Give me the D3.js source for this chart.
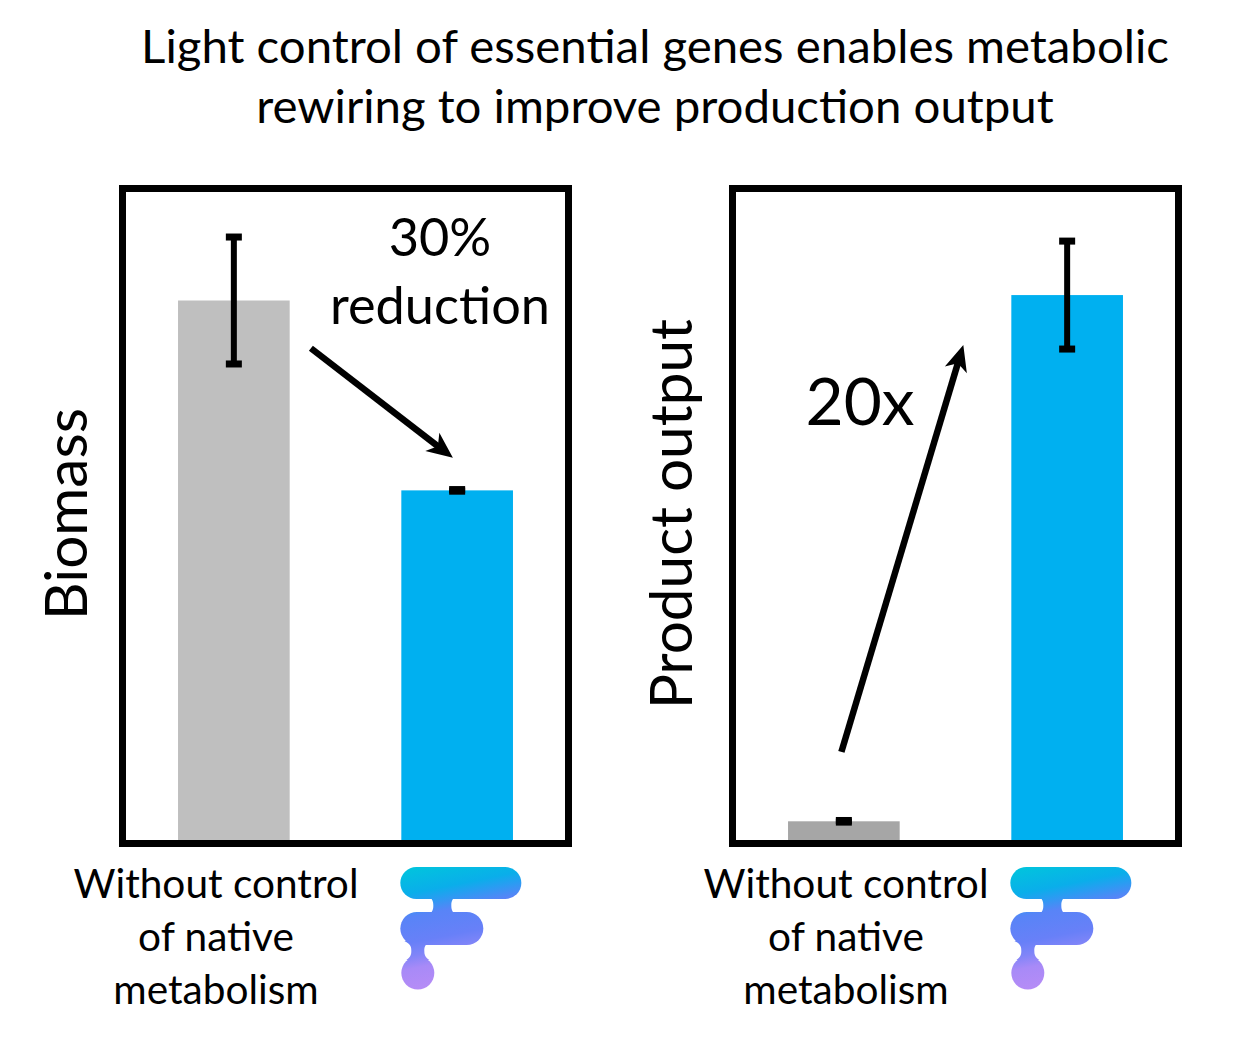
<html>
<head>
<script type="text/javascript" src="https://cdn.jsdelivr.net/npm/d3@7"></script>
<style>
  body { margin: 0; background: #fff; }
  text { font-family: Lato, "Open Sans", sans-serif; fill: #000; }
</style>
</head>
<body>
<script>
// data
let categories = ["Without control of native metabolism", "Light control"];
let categoryLines = ["Without control", "of native", "metabolism"];
let biomass = [1.0, 0.65];
let biomassErr = [0.117, 0.0015];
let product = [0.04, 1.01];
let productErr = [0.0015, 0.0995];
let titleLines = ["Light control of essential genes enables metabolic", "rewiring to improve production output"];

let screen = {width: 1243, height: 1047};
let frame = {left: 122.5, right: 568.5, top: 188.5, bottom: 843.5};

let panels = [
  {label: "Biomass", values: biomass, errs: biomassErr, colors: ["#bfbfbf", "#00b0f0"], dx: 0,
   labelX: 216, axisX: 87, axisW: 212,
   arrow: {from: [0.345, 0.912], to: [0.981, 0.71]},
   notes: [{t: "30%", x: 440, y: 256}, {t: "reduction", x: 440, y: 324}], noteW: 220},
  {label: "Product output", values: product, errs: productErr, colors: ["#a6a6a6", "#00b0f0"], dx: 610,
   labelX: 236, axisX: 82, axisW: 390,
   arrow: {from: [-0.011, 0.168], to: [0.535, 0.918]},
   notes: [{t: "20x", x: 250, y: 425}], noteW: 109}
];

// fit a text to a pixel width
let fit = function(sel, w) {
  sel.style("font-size", "100px");
  let len = sel.node().getComputedTextLength();
  let fs = 100 * w / len;
  sel.style("font-size", fs + "px");
  return fs;
};

let svg = d3.select("body").append("svg")
  .attr("width", screen.width)
  .attr("height", screen.height);

// logo gradient
let defs = svg.append("defs");
let grad = defs.append("linearGradient")
  .attr("id", "logoGrad")
  .attr("gradientUnits", "userSpaceOnUse")
  .attr("x1", 0).attr("y1", 0).attr("x2", 25).attr("y2", 125);
[[0, "#00c6dc"], [0.22, "#0aaeea"], [0.3, "#2a9cf2"], [0.4, "#5884f7"],
 [0.6, "#6880f8"], [0.7, "#8085f8"], [0.8, "#a88af7"], [1, "#b88cf6"]].forEach(function(s) {
  grad.append("stop").attr("offset", s[0]).attr("stop-color", s[1]);
});

// title
let t1 = svg.append("text").attr("x", 655).attr("y", 63).attr("text-anchor", "middle").text(titleLines[0]);
let tfs = fit(t1, 1028);
svg.append("text").attr("x", 655).attr("y", 123).attr("text-anchor", "middle")
  .style("font-size", tfs + "px").text(titleLines[1]);

let yScale = d3.scaleLinear()
  .domain([0, 1.2])
  .range([843, 192]);

let xScale = d3.scaleBand()
  .domain(categories)
  .range([126, 565])
  .paddingInner(0.5)
  .paddingOuter(0.233);

let step = xScale.step();
let xPos = function(u) { return xScale(categories[0]) + xScale.bandwidth() / 2 + u * step; };

panels.forEach(function(p) {
  let g = svg.append("g").attr("transform", "translate(" + p.dx + ",0)");

  // bars
  g.selectAll("rect.bar")
    .data(p.values)
    .enter()
    .append("rect")
    .attr("class", "bar")
    .attr("x", function(d, i) { return xScale(categories[i]); })
    .attr("y", function(d) { return yScale(d); })
    .attr("width", xScale.bandwidth())
    .attr("height", function(d) { return yScale(0) - yScale(d); })
    .attr("fill", function(d, i) { return p.colors[i]; });

  // error bars
  p.values.forEach(function(v, i) {
    let cx = xScale(categories[i]) + xScale.bandwidth() / 2;
    let hi = yScale(v + p.errs[i]), lo = yScale(v - p.errs[i]);
    g.append("line")
      .attr("x1", cx).attr("x2", cx).attr("y1", hi).attr("y2", lo)
      .attr("stroke", "#000").attr("stroke-width", 6);
    [hi, lo].forEach(function(y) {
      g.append("rect")
        .attr("x", cx - 8).attr("y", y - 3.5)
        .attr("width", 16).attr("height", 7)
        .attr("fill", "#000");
    });
  });

  // frame
  g.append("rect")
    .attr("x", frame.left).attr("y", frame.top)
    .attr("width", frame.right - frame.left)
    .attr("height", frame.bottom - frame.top)
    .attr("fill", "none")
    .attr("stroke", "#000")
    .attr("stroke-width", 7);

  // arrow
  let x1 = xPos(p.arrow.from[0]), y1 = yScale(p.arrow.from[1]);
  let x2 = xPos(p.arrow.to[0]), y2 = yScale(p.arrow.to[1]);
  let ang = Math.atan2(y2 - y1, x2 - x1);
  let back = 18;
  g.append("line")
    .attr("x1", x1).attr("y1", y1)
    .attr("x2", x2 - back * Math.cos(ang)).attr("y2", y2 - back * Math.sin(ang))
    .attr("stroke", "#000").attr("stroke-width", 6.5);
  g.append("path")
    .attr("d", "M0,0L-26,-11.5L-19,0L-26,11.5Z")
    .attr("transform", "translate(" + x2 + "," + y2 + ") rotate(" + (ang * 180 / Math.PI) + ")")
    .attr("fill", "#000");

  // notes
  let noteSel = g.selectAll("text.note")
    .data(p.notes)
    .enter()
    .append("text")
    .attr("class", "note")
    .attr("x", function(d) { return d.x; })
    .attr("y", function(d) { return d.y; })
    .attr("text-anchor", "middle")
    .text(function(d) { return d.t; });
  let nfs = fit(d3.select(noteSel.nodes()[noteSel.size() - 1]), p.noteW);
  noteSel.style("font-size", nfs + "px");

  // y label
  let yl = g.append("text")
    .attr("transform", "translate(" + p.axisX + ",514) rotate(-90)")
    .attr("text-anchor", "middle")
    .text(p.label);
  fit(yl, p.axisW);

  // category label
  let cl = g.append("text")
    .attr("x", p.labelX)
    .attr("text-anchor", "middle");
  cl.selectAll("tspan")
    .data(categoryLines)
    .enter()
    .append("tspan")
    .attr("x", p.labelX)
    .attr("y", function(d, i) { return 898 + i * 53; })
    .text(function(d) { return d; });
  let probe = g.append("text").text(categoryLines[0]);
  let cfs = fit(probe, 285);
  probe.remove();
  cl.style("font-size", cfs + "px");

  // logo for second category
  let logo = g.append("g")
    .attr("transform", "translate(" + (xScale(categories[1]) - 1) + ",867)")
    .attr("fill", "url(#logoGrad)");
  logo.append("rect").attr("x", 0).attr("y", 0).attr("width", 121).attr("height", 32).attr("rx", 16);
  logo.append("rect").attr("x", 0).attr("y", 45).attr("width", 83).attr("height", 33).attr("rx", 16.5);
  logo.append("circle").attr("cx", 17.5).attr("cy", 106).attr("r", 16.5);
  logo.append("path")
    .attr("d", "M24,28C32,30 33,34 33,38.5C33,43 32,47 24,49L60,49C52,47 51,43 51,38.5C51,34 52,30 60,28Z");
  logo.append("path")
    .attr("d", "M4,74C11,77 11,81 11,84C11,88 10,90 6,93L29,93C25,90 24,88 24,84C24,81 24,77 31,74Z");
});
</script>
</body>
</html>
